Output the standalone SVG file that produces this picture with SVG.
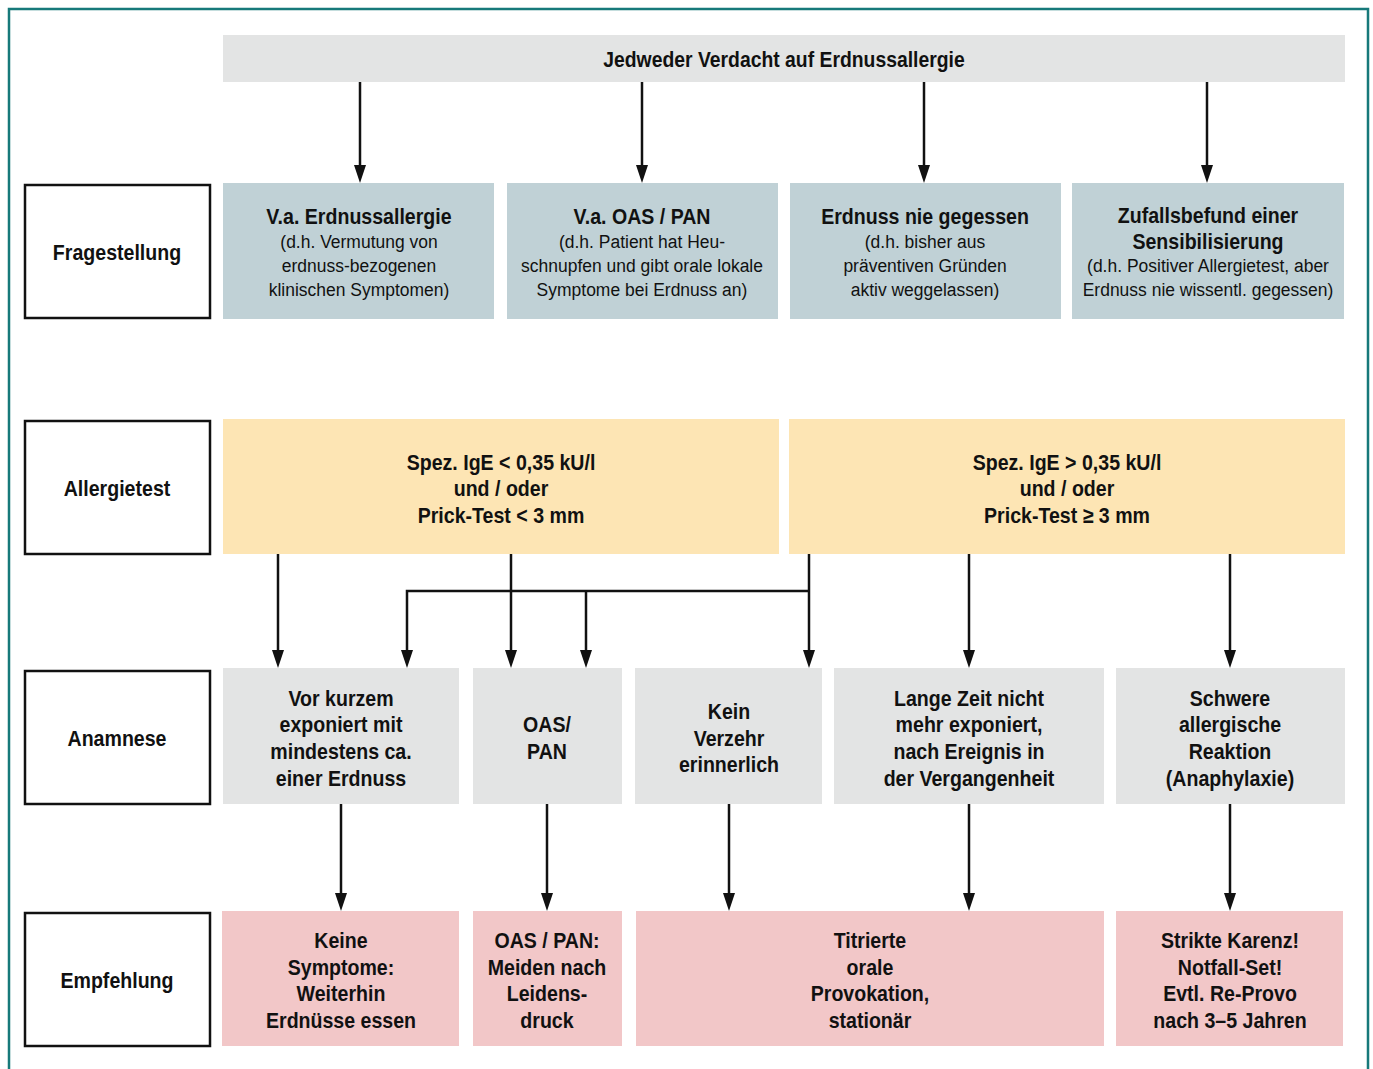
<svg xmlns="http://www.w3.org/2000/svg" width="1373" height="1069" viewBox="0 0 1373 1069">
<defs>
<style>
text{font-family:"Liberation Sans",Arial,sans-serif;text-anchor:middle;fill:#111}
.b text{font-weight:bold;font-size:22px}
.r text{font-size:19px}
.lab{fill:#fff;stroke:#111;stroke-width:2.5}
.hd{fill:#e3e4e4}
.q{fill:#c0d1d6}
.t{fill:#fde5b4}
.a{fill:#e3e4e4}
.e{fill:#f2c7c8}
.c{fill:none;stroke:#111;stroke-width:2.5}
</style>
<marker id="ah" viewBox="0 0 18 12" refX="8" refY="6" markerWidth="18" markerHeight="12" markerUnits="userSpaceOnUse" orient="auto">
<path d="M0,0 L18,6 L0,12 z" fill="#111"/>
</marker>
</defs>
<path d="M9,1075 V9 H1368 V1075" fill="none" stroke="#17797a" stroke-width="2.5"/>

<g id="header">
<rect class="hd" x="223" y="35" width="1122" height="47"/>
<g class="b" transform="translate(784,0) scale(0.88,1)"><text x="0" y="67">Jedweder Verdacht auf Erdnussallergie</text></g>
</g>

<g id="lab-fragestellung"><rect class="lab" x="25" y="185" width="185" height="133"/><g class="b" transform="translate(117,0) scale(0.89,1)"><text x="0" y="260">Fragestellung</text></g></g>
<g id="lab-allergietest"><rect class="lab" x="25" y="421" width="185" height="133"/><g class="b" transform="translate(117,0) scale(0.89,1)"><text x="0" y="496">Allergietest</text></g></g>
<g id="lab-anamnese"><rect class="lab" x="25" y="671" width="185" height="133"/><g class="b" transform="translate(117,0) scale(0.89,1)"><text x="0" y="746">Anamnese</text></g></g>
<g id="lab-empfehlung"><rect class="lab" x="25" y="913" width="185" height="133"/><g class="b" transform="translate(117,0) scale(0.89,1)"><text x="0" y="988">Empfehlung</text></g></g>

<g id="q1"><rect class="q" x="223" y="183" width="271" height="136"/>
<g class="b" transform="translate(359,0) scale(0.89,1)"><text x="0" y="224">V.a. Erdnussallergie</text></g>
<g class="r" transform="translate(359,0) scale(0.92,1)">
<text x="0" y="248">(d.h. Vermutung von</text>
<text x="0" y="272">erdnuss-bezogenen</text>
<text x="0" y="296">klinischen Symptomen)</text></g></g>
<g id="q2"><rect class="q" x="507" y="183" width="271" height="136"/>
<g class="b" transform="translate(642,0) scale(0.89,1)"><text x="0" y="224">V.a. OAS / PAN</text></g>
<g class="r" transform="translate(642,0) scale(0.92,1)">
<text x="0" y="248">(d.h. Patient hat Heu-</text>
<text x="0" y="272">schnupfen und gibt orale lokale</text>
<text x="0" y="296">Symptome bei Erdnuss an)</text></g></g>
<g id="q3"><rect class="q" x="790" y="183" width="271" height="136"/>
<g class="b" transform="translate(925,0) scale(0.89,1)"><text x="0" y="224">Erdnuss nie gegessen</text></g>
<g class="r" transform="translate(925,0) scale(0.92,1)">
<text x="0" y="248">(d.h. bisher aus</text>
<text x="0" y="272">präventiven Gründen</text>
<text x="0" y="296">aktiv weggelassen)</text></g></g>
<g id="q4"><rect class="q" x="1072" y="183" width="272" height="136"/>
<g class="b" transform="translate(1208,0) scale(0.89,1)"><text x="0" y="223">Zufallsbefund einer</text>
<text x="0" y="249">Sensibilisierung</text></g>
<g class="r" transform="translate(1208,0) scale(0.92,1)">
<text x="0" y="272">(d.h. Positiver Allergietest, aber</text>
<text x="0" y="296">Erdnuss nie wissentl. gegessen)</text></g></g>

<g id="t1"><rect class="t" x="223" y="419" width="556" height="135"/>
<g class="b" transform="translate(501,0) scale(0.89,1)">
<text x="0" y="470">Spez. IgE &lt; 0,35 kU/l</text>
<text x="0" y="496">und / oder</text>
<text x="0" y="523">Prick-Test &lt; 3 mm</text></g></g>
<g id="t2"><rect class="t" x="789" y="419" width="556" height="135"/>
<g class="b" transform="translate(1067,0) scale(0.89,1)">
<text x="0" y="470">Spez. IgE &gt; 0,35 kU/l</text>
<text x="0" y="496">und / oder</text>
<text x="0" y="523">Prick-Test ≥ 3 mm</text></g></g>

<g id="a1"><rect class="a" x="223" y="668" width="236" height="136"/>
<g class="b" transform="translate(341,0) scale(0.89,1)">
<text x="0" y="706">Vor kurzem</text>
<text x="0" y="732">exponiert mit</text>
<text x="0" y="759">mindestens ca.</text>
<text x="0" y="786">einer Erdnuss</text></g></g>
<g id="a2"><rect class="a" x="473" y="668" width="149" height="136"/>
<g class="b" transform="translate(547,0) scale(0.89,1)">
<text x="0" y="732">OAS/</text>
<text x="0" y="759">PAN</text></g></g>
<g id="a3"><rect class="a" x="635" y="668" width="187" height="136"/>
<g class="b" transform="translate(729,0) scale(0.89,1)">
<text x="0" y="719">Kein</text>
<text x="0" y="746">Verzehr</text>
<text x="0" y="772">erinnerlich</text></g></g>
<g id="a4"><rect class="a" x="834" y="668" width="270" height="136"/>
<g class="b" transform="translate(969,0) scale(0.89,1)">
<text x="0" y="706">Lange Zeit nicht</text>
<text x="0" y="732">mehr exponiert,</text>
<text x="0" y="759">nach Ereignis in</text>
<text x="0" y="786">der Vergangenheit</text></g></g>
<g id="a5"><rect class="a" x="1116" y="668" width="229" height="136"/>
<g class="b" transform="translate(1230,0) scale(0.89,1)">
<text x="0" y="706">Schwere</text>
<text x="0" y="732">allergische</text>
<text x="0" y="759">Reaktion</text>
<text x="0" y="786">(Anaphylaxie)</text></g></g>

<g id="e1"><rect class="e" x="222" y="911" width="237" height="135"/>
<g class="b" transform="translate(341,0) scale(0.89,1)">
<text x="0" y="948">Keine</text>
<text x="0" y="975">Symptome:</text>
<text x="0" y="1001">Weiterhin</text>
<text x="0" y="1028">Erdnüsse essen</text></g></g>
<g id="e2"><rect class="e" x="473" y="911" width="149" height="135"/>
<g class="b" transform="translate(547,0) scale(0.89,1)">
<text x="0" y="948">OAS / PAN:</text>
<text x="0" y="975">Meiden nach</text>
<text x="0" y="1001">Leidens-</text>
<text x="0" y="1028">druck</text></g></g>
<g id="e3"><rect class="e" x="636" y="911" width="468" height="135"/>
<g class="b" transform="translate(870,0) scale(0.89,1)">
<text x="0" y="948">Titrierte</text>
<text x="0" y="975">orale</text>
<text x="0" y="1001">Provokation,</text>
<text x="0" y="1028">stationär</text></g></g>
<g id="e4"><rect class="e" x="1116" y="911" width="227" height="135"/>
<g class="b" transform="translate(1230,0) scale(0.89,1)">
<text x="0" y="948">Strikte Karenz!</text>
<text x="0" y="975">Notfall-Set!</text>
<text x="0" y="1001">Evtl. Re-Provo</text>
<text x="0" y="1028">nach 3–5 Jahren</text></g></g>

<g id="connectors">
<path class="c" d="M360,82 V173" marker-end="url(#ah)"/>
<path class="c" d="M642,82 V173" marker-end="url(#ah)"/>
<path class="c" d="M924,82 V173" marker-end="url(#ah)"/>
<path class="c" d="M1207,82 V173" marker-end="url(#ah)"/>
<path class="c" d="M278,554 V658" marker-end="url(#ah)"/>
<path class="c" d="M511,554 V658" marker-end="url(#ah)"/>
<path class="c" d="M809,554 V658" marker-end="url(#ah)"/>
<path class="c" d="M809,591 H407 V658" marker-end="url(#ah)"/>
<path class="c" d="M586,591 V658" marker-end="url(#ah)"/>
<path class="c" d="M969,554 V658" marker-end="url(#ah)"/>
<path class="c" d="M1230,554 V658" marker-end="url(#ah)"/>
<path class="c" d="M341,804 V901" marker-end="url(#ah)"/>
<path class="c" d="M547,804 V901" marker-end="url(#ah)"/>
<path class="c" d="M729,804 V901" marker-end="url(#ah)"/>
<path class="c" d="M969,804 V901" marker-end="url(#ah)"/>
<path class="c" d="M1230,804 V901" marker-end="url(#ah)"/>
</g>
</svg>
